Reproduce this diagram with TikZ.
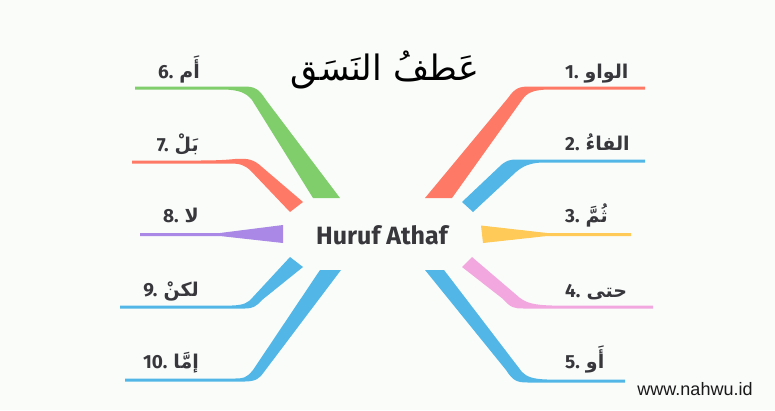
\documentclass[tikz,border=0pt]{standalone}
\usepackage{fontspec}
\setmainfont{Fira Sans}
\newfontfamily\arb[Script=Arabic]{DejaVu Sans}
\newfontfamily\webfont{Liberation Sans}
\TeXXeTstate=1
\definecolor{bg}{RGB}{250,252,250}
\definecolor{txt}{RGB}{55,55,60}
\definecolor{cRed}{RGB}{255,122,102}
\definecolor{cBlue}{RGB}{82,183,230}
\definecolor{cGreen}{RGB}{128,205,108}
\definecolor{cYellow}{RGB}{255,202,87}
\definecolor{cPink}{RGB}{242,167,223}
\definecolor{cPurple}{RGB}{170,136,230}
\newcommand{\gp}{\hspace{6pt}}
\tikzset{
  lbl/.style={font=\fontsize{19}{22}\selectfont\bfseries, text=txt, inner sep=0pt}
}
\begin{document}
\begin{tikzpicture}[x=1pt,y=-1pt]
\fill[bg] (0,0) rectangle (775,410);
\useasboundingbox (0,0) rectangle (775,410);

% right branches
\fill[cRed] (425,198) -- (508,98) .. controls (515,88) and (519,86.5) .. (530,86.5) -- (645,86.5) -- (645,89.5) -- (548,89.5) .. controls (532,90) and (527,93) .. (522,100) -- (452,198) -- cycle;
\fill[cBlue] (462,202) -- (499,167) .. controls (506,160) and (510,159.5) .. (518,159.5) -- (645,159.5) -- (645,162.5) -- (542,162.5) .. controls (530,163) and (523,166) .. (516,172) -- (473,212) -- cycle;
\fill[cYellow] (481,225.5) -- (547,233) -- (631,233) -- (631,236) -- (547,236) -- (483,243) -- cycle;
\fill[cPink] (462,267) -- (503,299) .. controls (511,308) and (514,308.5) .. (524,308.5) -- (653,308.5) -- (653,305.5) -- (552,305.5) .. controls (534,305) and (527,303) .. (520,298) -- (472,257) -- cycle;
\fill[cBlue] (425,270) -- (506,370) .. controls (513,381) and (517,382.5) .. (528,382.5) -- (625,382.5) -- (625,379.5) -- (547,379.5) .. controls (533,379) and (527,377) .. (522,372) -- (444,270) -- cycle;

% left branches
\fill[cGreen] (340,198) -- (266,100) .. controls (259,89) and (255,86.5) .. (244,86.5) -- (135,86.5) -- (135,89.5) -- (224,89.5) .. controls (240,90) and (246,93) .. (252,100) -- (313,198) -- cycle;
\fill[cRed] (303,202) -- (262,167) .. controls (254,159.5) and (248,158) .. (235,159) .. controls (225,160) and (215,160.5) .. (200,160.5) -- (132,160.5) -- (132,163.5) -- (230,163.5) .. controls (240,163.5) and (244,165) .. (250,170) -- (290,212) -- cycle;
\fill[cPurple] (283,225) -- (220,233) -- (140,233) -- (140,236) -- (220,236) -- (283,243) -- cycle;
\fill[cBlue] (290,257) -- (253,297) .. controls (248,303) and (244,305) .. (232,305.5) -- (120,305.5) -- (120,308.5) -- (245,308.5) .. controls (252,308.5) and (256,307) .. (262,300) -- (303,267) -- cycle;
\fill[cBlue] (320,270) -- (253,370) .. controls (246,378.5) and (243,378.5) .. (234,378.5) -- (125,378.5) -- (125,381.5) -- (245,381.5) .. controls (256,381.5) and (260,378) .. (264,372) -- (341,270) -- cycle;

% texts
\node[anchor=base, inner sep=0pt, font=\fontsize{35}{42}\selectfont] (title) at (385,80) {\arb\beginR عَطفُ النَسَق\endR};
\node[anchor=base, inner sep=0pt, text=txt, font=\fontsize{25}{30}\selectfont\bfseries] (center) at (382,244) {Huruf Athaf};

\node[lbl, anchor=base west] (l1) at (565,78) {1.\gp{\arb\beginR الواو\endR}};
\node[lbl, anchor=base west] (l2) at (565,150) {2.\gp{\arb\beginR الفاءُ\endR}};
\node[lbl, anchor=base west] (l3) at (565,222) {3.\gp{\arb\beginR ثُمَّ\endR}};
\node[lbl, anchor=base west] (l4) at (565,297) {4.\gp{\arb\beginR حتى\endR}};
\node[lbl, anchor=base west] (l5) at (565,368) {5.\gp{\arb\beginR أَو\endR}};

\node[lbl, anchor=base east] (l6) at (200,78) {6.\gp{\arb\beginR أَم\endR}};
\node[lbl, anchor=base east] (l7) at (199,151) {7.\gp{\arb\beginR بَلْ\endR}};
\node[lbl, anchor=base east] (l8) at (199,222) {8.\gp{\arb\beginR لا\endR}};
\node[lbl, anchor=base east] (l9) at (199,296) {9.\gp{\arb\beginR لكنْ\endR}};
\node[lbl, anchor=base east] (l10) at (199,368) {10.\gp{\arb\beginR إمَّا\endR}};

\node[anchor=base, inner sep=0pt, font=\webfont\fontsize{18}{20}\selectfont, text=black!90] (web) at (695,395) {www.nahwu.id};
\end{tikzpicture}
\end{document}
